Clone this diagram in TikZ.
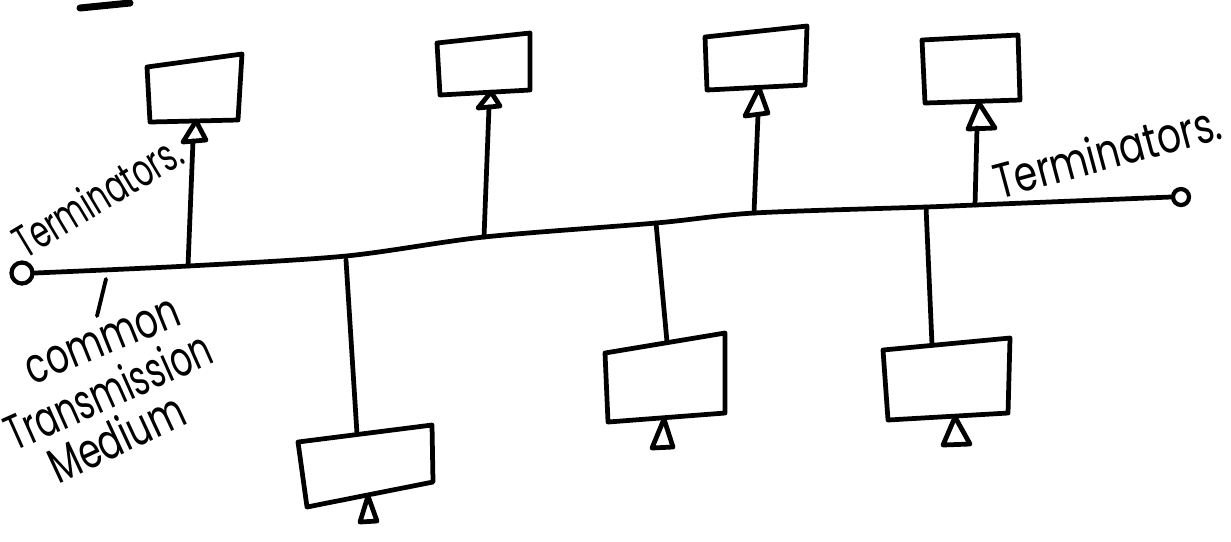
\documentclass[tikz,border=0pt]{standalone}
\usepackage{fontspec}
\newfontfamily\hand{Poppins}
\begin{document}
\begin{tikzpicture}[x=0.01cm,y=-0.01cm,
  ink/.style={line width=1.35pt, line cap=round, line join=round},
  thin ink/.style={line width=1.1pt, line cap=round, line join=round},
  label/.style={inner sep=0pt, font=\hand},
  term/.style={draw, circle, line width=1.2pt, inner sep=0pt}]
\useasboundingbox (0,0) rectangle (1231,541);

% terminators at both ends of the bus
\node[term, minimum size=0.21cm] (tl) at (22,273) {};
\node[term, minimum size=0.16cm] (tr) at (1181,197) {};

% tap points on the bus
\coordinate (j1) at (188,266);
\coordinate (j5) at (346,256);
\coordinate (j2) at (484,237);
\coordinate (j6) at (656,223);
\coordinate (j3) at (754,213);
\coordinate (j7) at (926,207);
\coordinate (j4) at (975,205);

% the common bus
\draw[ink] plot[smooth, tension=0.5] coordinates
  {(tl.east) (j1) (j5) (j2) (j6) (j3) (j7) (j4) (tr.west)};

% stations above the bus
\draw[ink] (147,67) -- (242,54) -- (238,120) -- (150,122) -- cycle;
\draw[ink] (196,121) -- (183,142) -- (206,140) -- cycle;
\coordinate (t1) at (193,141);
\draw[ink] (437,43) -- (530,33) -- (530,90) -- (440,95) -- cycle;
\draw[ink] (491,92) -- (478,108) -- (500,106) -- cycle;
\coordinate (t2) at (489,107);
\draw[ink] (705,37) -- (807,26) -- (805,85) -- (707,90) -- cycle;
\draw[ink] (759,88) -- (745,116) -- (768,113) -- cycle;
\coordinate (t3) at (758,115);
\draw[ink] (922,40) -- (1018,35) -- (1020,100) -- (925,103) -- cycle;
\draw[ink] (979,103) -- (968,129) -- (995,128) -- cycle;
\coordinate (t4) at (977,128);

% stations below the bus
\draw[ink] (298,442) -- (432,425) -- (433,482) -- (307,507) -- cycle;
\draw[ink] (368,496) -- (360,522) -- (377,521) -- cycle;
\coordinate (b5) at (357,434);
\draw[ink] (605,353) -- (725,333) -- (725,413) -- (608,422) -- cycle;
\draw[ink] (664,419) -- (652,448) -- (673,447) -- cycle;
\coordinate (b6) at (667,342);
\draw[ink] (883,350) -- (1010,338) -- (1008,413) -- (888,420) -- cycle;
\draw[ink] (955,417) -- (943,445) -- (970,444) -- cycle;
\coordinate (b7) at (932,345);

% drop lines
\draw[ink] (j1) -- (t1);
\draw[ink] (j2) -- (t2);
\draw[ink] (j3) -- (t3);
\draw[ink] (j4) -- (t4);
\draw[ink] ([yshift=-0.04cm]j5) -- (b5);
\draw[ink] (j6) -- (b6);
\draw[ink] (j7) -- (b7);

% small stroke at the top edge
\draw[line width=2pt, line cap=round] (80,8) -- (130,3);

% labels
\node[label, rotate=31] (lt) at (97,196) {\fontsize{13}{13}\selectfont\scalebox{0.66}[1]{Terminators.}};
\node[label, rotate=15] (rt) at (1107,151) {\fontsize{14}{14}\selectfont\scalebox{0.76}[1]{Terminators.}};
\node[label, rotate=22] (c1) at (103,342) {\fontsize{14}{14}\selectfont\scalebox{0.72}[1]{common}};
\node[label, rotate=24] (c2) at (108,390) {\fontsize{14}{14}\selectfont\scalebox{0.68}[1]{Transmission}};
\node[label, rotate=25] (c3) at (116,437) {\fontsize{14}{14}\selectfont\scalebox{0.72}[1]{Medium}};
\coordinate (p) at (106,279);
\draw[thin ink] (p) -- (97,316);
\end{tikzpicture}
\end{document}
